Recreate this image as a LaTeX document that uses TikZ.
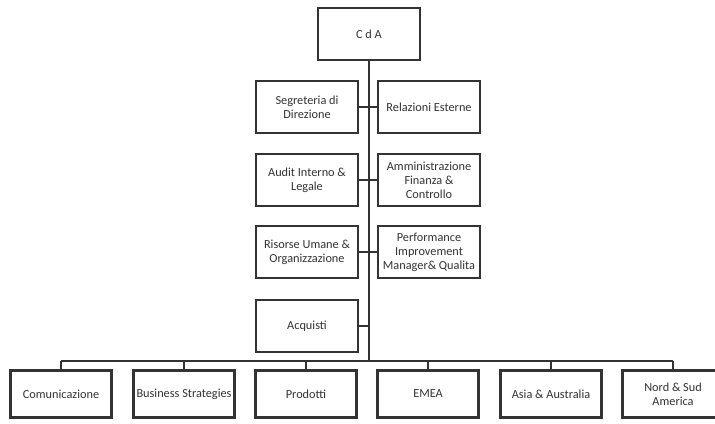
\documentclass[tikz,border=0pt]{standalone}
\usepackage{fontspec}
\setmainfont{Carlito}

\tikzset{
  unit/.style = {draw = black!80, line width = 1.4pt, fill = white, text = black!80,
                 minimum width = 2.04cm, minimum height = 1.04cm, align = center,
                 inner sep = 1pt, font = \fontsize{7}{7.9}\selectfont},
  area/.style = {unit, minimum width = 2.02cm, minimum height = 0.94cm},
  link/.style = {draw = black!80, line width = 0.7pt}
}

\begin{document}
\begin{tikzpicture}[x = 0.02cm, y = -0.02cm]
	 \useasboundingbox (0, 0) rectangle (715, 423);
	 \clip (0, 0) rectangle (715, 423);

	 \node[unit, line width = 0.7pt, minimum width = 2.04cm, minimum height = 1.04cm] (cda) at (369, 34) {C d A};
	 \coordinate (bus) at (369, 361);

	 \node[unit] (segreteria) at (307, 107) {Segreteria di\\Direzione};
	 \node[unit] (relazioni) at (429, 107) {Relazioni Esterne};
	 \node[unit] (audit) at (307, 180) {Audit Interno \&\\Legale};
	 \node[unit] (amministrazione) at (429, 180) {Amministrazione\\Finanza \&\\Controllo};
	 \node[unit] (risorse) at (307, 252) {Risorse Umane \&\\Organizzazione};
	 \node[unit] (performance) at (429, 252) {Performance\\Improvement\\Manager\& Qualita};
	 \node[unit] (acquisti) at (307, 326) {Acquisti};
	 \coordinate (acq) at (369, 326);

	 \draw[link] (cda) -- (bus);
	 \draw[link] (segreteria) -- (relazioni);
	 \draw[link] (audit) -- (amministrazione);
	 \draw[link] (risorse) -- (performance);
	 \draw[link] (acquisti) -- (acq);

	 \draw[link] (61, 361) -- (673, 361);
	 \foreach \n/\x/\t in {1/61/Comunicazione, 2/184/Business Strategies, 3/306/Prodotti,
	                       4/428/EMEA, 5/551/Asia \& Australia, 6/673/{Nord \& Sud\\America}}
	 {
	   \node[area] (b\n) at (\x, 394) {\t};
	   \draw[link] (\x, 361) -- (b\n);
	 }
\end{tikzpicture}
\end{document}
